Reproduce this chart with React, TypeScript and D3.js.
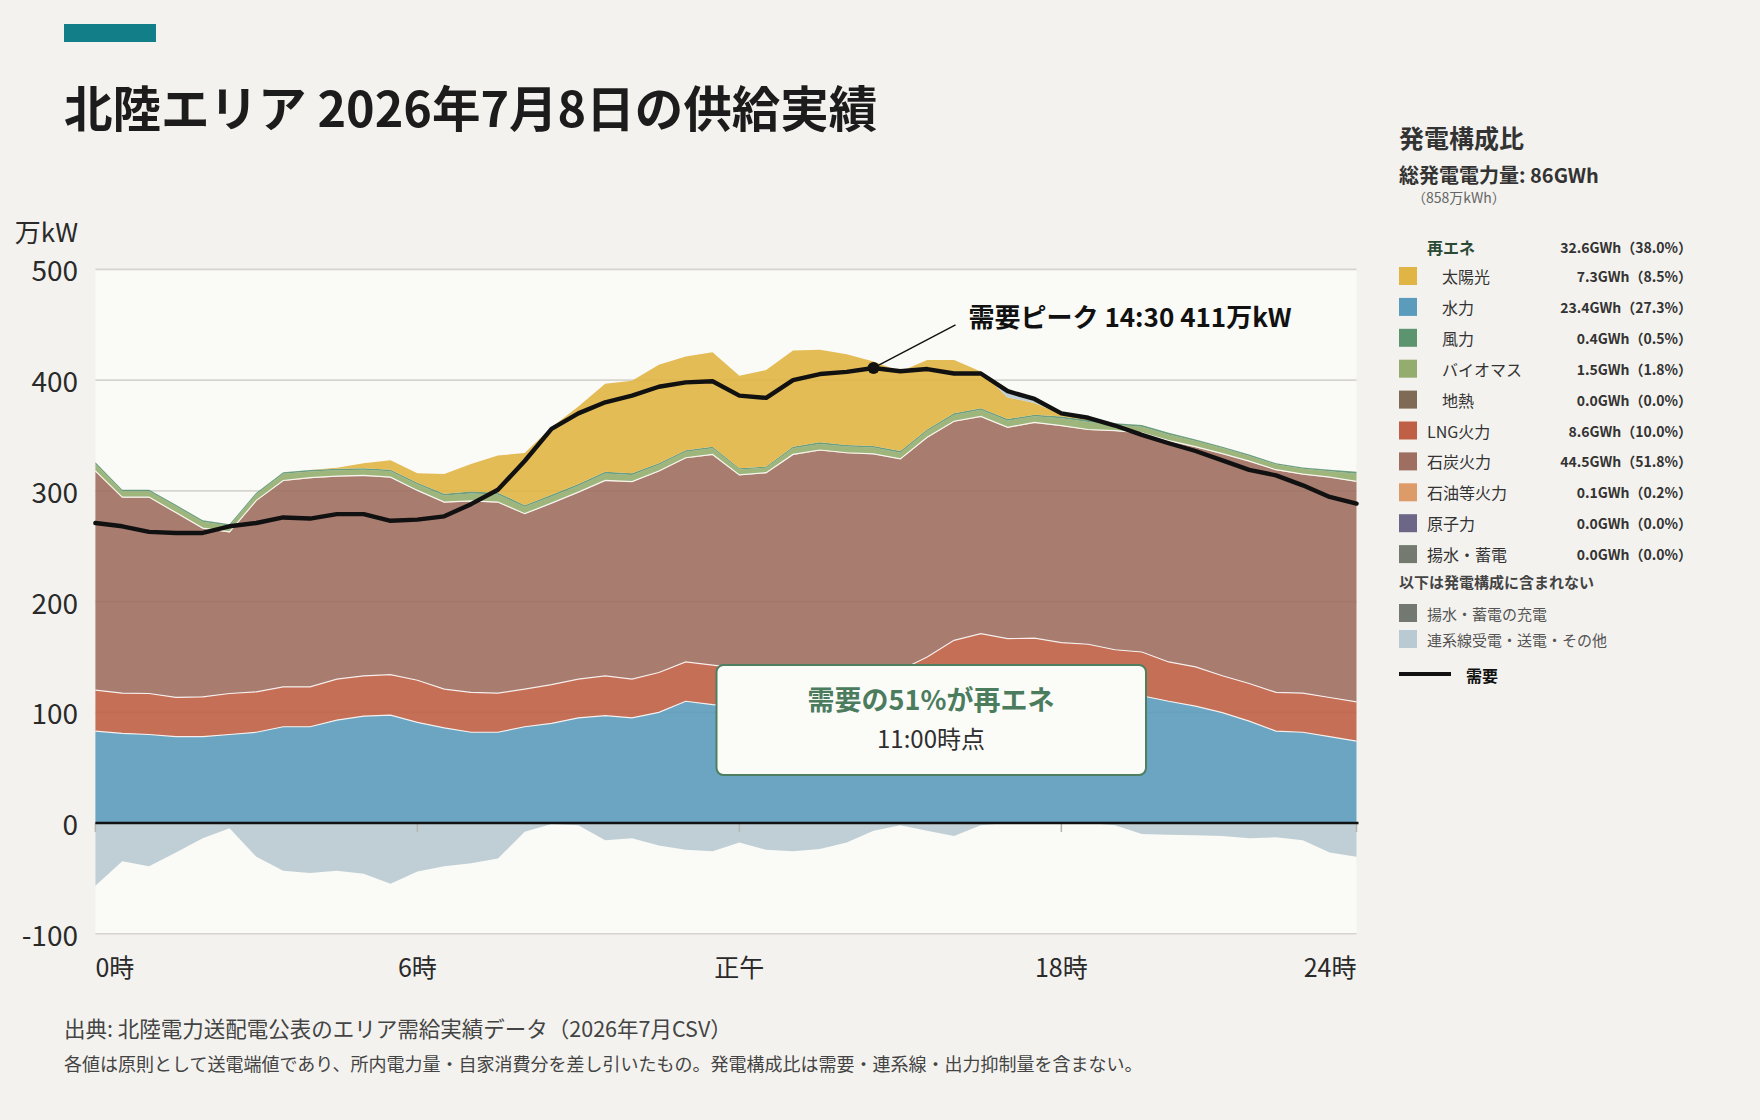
import React from 'react';
import * as d3 from 'd3';

const W = 1760;
const H = 1120;
const FONT = '"Noto Sans CJK JP", "Noto Sans", sans-serif';

// half-hour slots (hours)
const times = d3.range(48).map((i) => i * 0.5);

// 万kW per half-hour slot
const hydro = [83, 81, 80, 78, 78, 80, 82, 87, 87, 93, 96.5, 97.5, 91, 86, 82, 82, 87, 90, 95, 97, 95, 100, 110, 107, 105, 103, 104, 105, 105, 104, 103, 108, 112, 116, 118, 119, 119, 118, 117, 115, 110, 105.6, 99.7, 92, 83, 82, 78, 74];
const lng = [37, 36.3, 37, 35.5, 36, 37, 36.5, 36, 36, 37, 36.5, 36.5, 38, 35, 36, 35.3, 34, 35, 35, 36, 35, 36, 35.5, 35.7, 35, 35, 35, 35, 35, 35, 35, 42, 53, 55, 48.5, 48, 44, 43.5, 39.5, 39.5, 35.5, 35.4, 33.3, 34, 35, 35.3, 35.4, 35.5];
const coal = [197.6, 176.7, 177, 166.5, 152, 145.5, 172.5, 186, 188.5, 183, 180.5, 178, 171, 168.5, 172.5, 172.2, 158, 163.5, 168.5, 176, 178, 181.5, 184, 189.8, 174, 178, 193.5, 196.5, 194, 194, 190.5, 198, 197.5, 195.8, 190.5, 194.4, 195.6, 193.5, 197.5, 197.5, 199.5, 198.5, 200.2, 200.5, 200.7, 197.5, 198.6, 198.7];
const oil = [0.4, 0.4, 0.4, 0.4, 0.4, 0.4, 0.4, 0.4, 0.4, 0.4, 0.4, 0.4, 0.4, 0.4, 0.4, 0.4, 0.4, 0.4, 0.4, 0.4, 0.4, 0.4, 0.4, 0.4, 0.4, 0.4, 0.4, 0.4, 0.4, 0.4, 0.4, 0.4, 0.4, 0.4, 0.4, 0.4, 0.4, 0.4, 0.4, 0.4, 0.4, 0.4, 0.4, 0.4, 0.4, 0.4, 0.4, 0.4];
const biomass = [6.2, 5.2, 5.2, 5.6, 5.6, 5.6, 5.6, 6.0, 5.6, 5.2, 5.2, 5.4, 5.6, 6.0, 6.8, 6.8, 6.2, 6.0, 5.8, 6.2, 6.0, 5.6, 5.4, 5.6, 4.8, 4.4, 5.6, 5.5, 5.6, 5.8, 5.6, 5.6, 5.7, 6.0, 6.0, 5.6, 6.5, 6.9, 5.3, 5.6, 5.6, 5.2, 5.0, 4.7, 4.7, 4.7, 5.4, 6.9];
const wind = [1.6, 1.3, 1.3, 1.4, 1.4, 1.4, 1.4, 1.5, 1.4, 1.3, 1.3, 1.3, 1.4, 1.5, 1.7, 1.7, 1.5, 1.5, 1.5, 1.6, 1.6, 1.5, 1.4, 1.4, 1.2, 1.1, 1.4, 1.4, 1.4, 1.4, 1.4, 1.4, 1.4, 1.5, 1.5, 1.4, 1.7, 1.8, 1.3, 1.4, 1.4, 1.3, 1.3, 1.2, 1.2, 1.2, 1.3, 1.7];
const solar = [0, 0, 0, 0, 0, 0, 0, 0, 0, 1, 4.6, 8.6, 8.6, 17.8, 24.8, 33.6, 47, 61, 70, 79.5, 83.4, 88.8, 84.7, 85.2, 83.6, 87.2, 86.8, 83.6, 82, 76.3, 72, 62.7, 48.1, 33.2, 19.5, 10.6, 2, 1, 0, 0, 0, 0, 0, 0, 0, 0, 0, 0];
const interconnect = [-56.7, -34.4, -39, -26.6, -13.7, -4.7, -30.5, -43, -45, -43, -45.8, -54.8, -43.8, -39, -36.4, -32, -7.8, -0.8, -2, -15.6, -13.7, -20.3, -24, -25.4, -17.6, -24.2, -25.4, -23.5, -17.6, -7, -2, -7, -11.7, -2, 5, 4, 1, 2, -2, -9.8, -10.6, -11, -11.7, -13.7, -12.9, -15.6, -26.6, -30.5];
const demand = [271, 268, 263, 262, 262, 268, 271, 276, 275, 279, 279, 273, 274, 277, 288, 301, 327, 356, 370, 380, 386, 394, 398, 399, 386, 384, 400, 405.5, 407.5, 411, 408, 410, 406, 406, 390, 383, 370, 366, 359, 350.5, 343, 336, 327.5, 319, 314, 305, 294.5, 288.5];

const yTicks = [-100, 0, 100, 200, 300, 400, 500];
const xTickValues = [0, 6, 12, 18, 23.5];
const xTickLabels = ['0時', '6時', '正午', '18時', '24時'];

const legendNames = ['太陽光', '水力', '風力', 'バイオマス', '地熱', 'LNG火力', '石炭火力', '石油等火力', '原子力', '揚水・蓄電'];
const legendValues = ['7.3GWh（8.5%）', '23.4GWh（27.3%）', '0.4GWh（0.5%）', '1.5GWh（1.8%）', '0.0GWh（0.0%）', '8.6GWh（10.0%）', '44.5GWh（51.8%）', '0.1GWh（0.2%）', '0.0GWh（0.0%）', '0.0GWh（0.0%）'];
const legendColors = ['#e0b545', '#5b9bbb', '#5c9470', '#94ad6e', '#7f6a55', '#bf5f45', '#9e6e60', '#de9b6a', '#6c6786', '#747a70'];
const legendRenewable = [true, true, true, true, true, false, false, false, false, false];

const stackKeys = ['hydro', 'lng', 'coal', 'oil', 'biomass', 'wind', 'solar', 'importPos'];
const colors: Record<string, string> = {
  hydro: '#5b9bbb',
  lng: '#bf5f45',
  coal: '#9e6e60',
  oil: '#de9b6a',
  biomass: '#94ad6e',
  wind: '#5c9470',
  solar: '#e0b545',
  importPos: '#b9cad2',
};

const PL = 95.4;
const PR = 1356.5;
const PT = 269.4;
const PB = 933.8;

export default function App() {
  const x = d3.scaleLinear().domain([0, 23.5]).range([PL, PR]);
  const y = d3.scaleLinear().domain([-100, 500]).range([PB, PT]);

  const rows = times.map((t, i) => ({
    t,
    hydro: hydro[i],
    lng: lng[i],
    coal: coal[i],
    oil: oil[i],
    biomass: biomass[i],
    wind: wind[i],
    solar: solar[i],
    importPos: Math.max(0, interconnect[i]),
  }));
  const stacked = d3.stack<any>().keys(stackKeys)(rows);

  const area = d3
    .area<any>()
    .x((d: any) => x(d.data.t))
    .y0((d: any) => y(d[0]))
    .y1((d: any) => y(d[1]));
  const topLine = d3
    .line<any>()
    .x((d: any) => x(d.data.t))
    .y((d: any) => y(d[1]));
  const negArea = d3
    .area<number>()
    .x((_d, i) => x(times[i]))
    .y0(() => y(0))
    .y1((d) => y(Math.min(0, d)));
  const demandLine = d3
    .line<number>()
    .x((_d, i) => x(times[i]))
    .y((d) => y(d));

  const peakIdx = d3.maxIndex(demand);
  const px = x(times[peakIdx]);
  const py = y(demand[peakIdx]);

  const legendX = 1399;
  const valX = 1692;
  const rowY0 = 276;
  const rowStep = 30.9;

  return (
    <div style={{ position: 'absolute', left: 0, top: 0, width: W, height: H }}>
      <svg width={W} height={H} style={{ display: 'block', fontFamily: FONT }}>
        <rect x={0} y={0} width={W} height={H} fill="#f3f2ee" />
        <rect x={64} y={24} width={92} height={18} fill="#127e87" />
        <text x={64} y={127} fontSize={48.5} fontWeight={700} fill="#1c1c1c">
          北陸エリア 2026年7月8日の供給実績
        </text>

        {/* plot background */}
        <rect x={PL} y={PT} width={PR - PL} height={PB - PT} fill="#fafaf6" />
        {yTicks
          .filter((v) => v !== 0)
          .map((v) => (
            <line key={'g' + v} x1={PL} x2={PR} y1={y(v)} y2={y(v)} stroke="#d6d4ce" strokeWidth={1.6} />
          ))}

        {/* stacked areas */}
        {stacked.map((s: any) => (
          <path key={s.key} d={area(s) || ''} fill={colors[s.key]} fillOpacity={0.9} />
        ))}
        <path d={negArea(interconnect) || ''} fill="#b9cad2" fillOpacity={0.9} />
        {stacked
          .filter((s: any) => s.key === 'hydro' || s.key === 'lng' || s.key === 'oil')
          .map((s: any) => (
            <path key={'l' + s.key} d={topLine(s) || ''} fill="none" stroke="#ffffff" strokeOpacity={0.85} strokeWidth={1.2} />
          ))}

        {/* zero line and ticks */}
        {xTickValues.map((v) => (
          <line key={'t' + v} x1={x(v)} x2={x(v)} y1={y(0)} y2={y(0) + 9} stroke="#b5b5b0" strokeWidth={1.5} />
        ))}
        <line x1={PL} x2={PR + 2} y1={y(0)} y2={y(0)} stroke="#111" strokeWidth={2.6} />

        {/* demand */}
        <path d={demandLine(demand) || ''} fill="none" stroke="#111" strokeWidth={4.4} strokeLinejoin="round" strokeLinecap="round" />

        {/* y axis labels */}
        <text x={78} y={230} fontSize={26} fill="#2a2a2a" textAnchor="end" dominantBaseline="central">
          万kW
        </text>
        {yTicks.map((v) => (
          <text key={'y' + v} x={78} y={y(v)} fontSize={28} fill="#2a2a2a" textAnchor="end" dominantBaseline="central">
            {v}
          </text>
        ))}
        {xTickValues.map((v, i) => (
          <text
            key={'x' + v}
            x={x(v)}
            y={966}
            fontSize={25}
            fill="#2a2a2a"
            dominantBaseline="central"
            textAnchor={i === 0 ? 'start' : i === xTickValues.length - 1 ? 'end' : 'middle'}
          >
            {xTickLabels[i]}
          </text>
        ))}

        {/* peak annotation */}
        <line x1={px} y1={py} x2={px + 82} y2={py - 43} stroke="#111" strokeWidth={1.4} />
        <circle cx={px} cy={py} r={6} fill="#111" />
        <text x={px + 95} y={py - 41} fontSize={26} fontWeight={700} fill="#111">
          需要ピーク 14:30 411万kW
        </text>

        {/* renewable callout */}
        <rect x={716.5} y={665} width={429.5} height={110} rx={7} fill="#fbfbf8" stroke="#4f7f61" strokeWidth={2} />
        <text x={931} y={710} fontSize={27} fontWeight={700} fill="#4c7c5e" textAnchor="middle">
          需要の51%が再エネ
        </text>
        <text x={931} y={748} fontSize={24} fill="#2e2e2e" textAnchor="middle">
          11:00時点
        </text>

        {/* legend */}
        <text x={legendX} y={148} fontSize={25} fontWeight={700} fill="#333">
          発電構成比
        </text>
        <text x={legendX} y={183} fontSize={20} fontWeight={700} fill="#333">
          総発電電力量: 86GWh
        </text>
        <text x={1412} y={203} fontSize={14} fill="#666">
          （858万kWh）
        </text>
        <text x={1427} y={246.7} fontSize={16} fontWeight={700} fill="#2b4a35" dominantBaseline="central">
          再エネ
        </text>
        <text x={valX} y={246.7} fontSize={14} fontWeight={700} fill="#333" textAnchor="end" dominantBaseline="central">
          32.6GWh（38.0%）
        </text>
        {legendNames.map((name, i) => {
          const cy = rowY0 + i * rowStep;
          return (
            <g key={name}>
              <rect x={legendX} y={cy - 9} width={18} height={18} fill={legendColors[i]} />
              <text x={legendRenewable[i] ? 1442 : 1427} y={cy} fontSize={16} fill="#333" dominantBaseline="central">
                {name}
              </text>
              <text x={valX} y={cy} fontSize={14} fontWeight={700} fill="#333" textAnchor="end" dominantBaseline="central">
                {legendValues[i]}
              </text>
            </g>
          );
        })}
        <text x={legendX} y={581} fontSize={15} fontWeight={700} fill="#444" dominantBaseline="central">
          以下は発電構成に含まれない
        </text>
        <rect x={legendX} y={604} width={18} height={18} fill="#737870" />
        <text x={1427} y={613} fontSize={15} fill="#555" dominantBaseline="central">
          揚水・蓄電の充電
        </text>
        <rect x={legendX} y={630} width={18} height={18} fill="#b9cad2" />
        <text x={1427} y={639} fontSize={15} fill="#555" dominantBaseline="central">
          連系線受電・送電・その他
        </text>
        <line x1={legendX} x2={1451} y1={674} y2={674} stroke="#111" strokeWidth={4} />
        <text x={1466} y={675} fontSize={16} fontWeight={700} fill="#111" dominantBaseline="central">
          需要
        </text>

        {/* footer */}
        <text x={64} y={1037} fontSize={21.5} fill="#444">
          出典: 北陸電力送配電公表のエリア需給実績データ（2026年7月CSV）
        </text>
        <text x={64} y={1071} fontSize={18} fill="#444">
          各値は原則として送電端値であり、所内電力量・自家消費分を差し引いたもの。発電構成比は需要・連系線・出力抑制量を含まない。
        </text>
      </svg>
    </div>
  );
}
